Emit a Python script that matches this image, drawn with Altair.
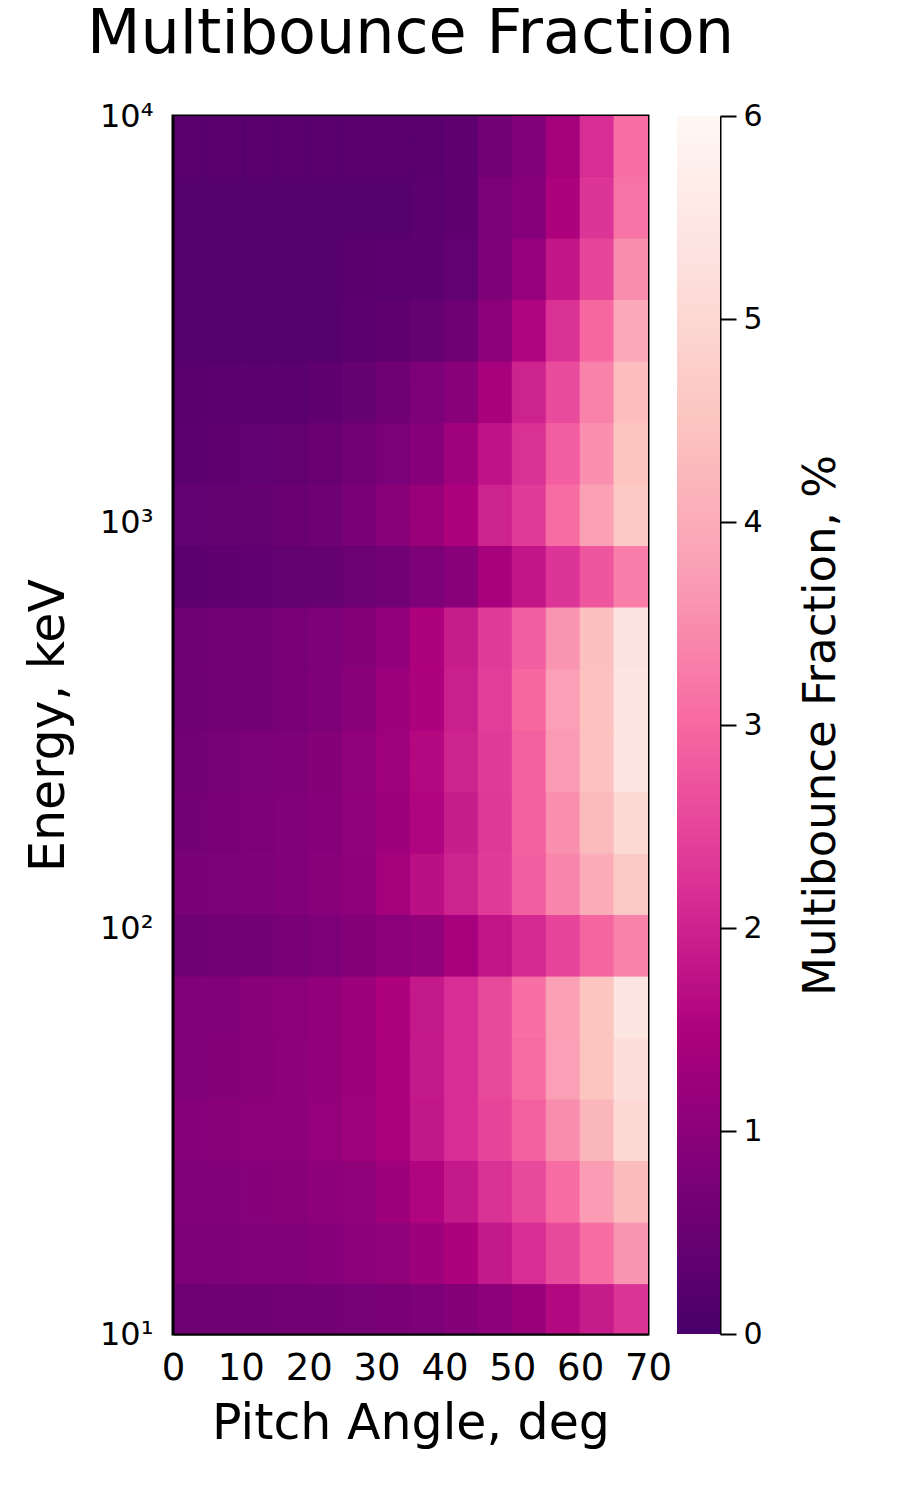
import altair as alt
import pandas as pd

FONT = "DejaVu Sans"

# Pitch-angle bin edges (deg) and energy bin edges (keV, top to bottom)
angle_edges = [0, 5, 10, 15, 20, 25, 30, 35, 40, 45, 50, 55, 60, 65, 70]
energy_edges = [10000, 7056, 4977, 3512, 2477, 1748, 1233, 870, 614, 433,
                305, 215.6, 152, 107.3, 75.7, 53.4, 37.7, 26.6, 18.75, 13.23, 9.33]

# Multibounce fraction (%) per energy row (top row = highest energy), 14 pitch-angle bins
row_00 = [0.25, 0.25, 0.25, 0.25, 0.25, 0.25, 0.25, 0.25, 0.33, 0.62, 0.88, 1.35, 2.15, 3.10]
row_01 = [0.20, 0.20, 0.20, 0.20, 0.20, 0.20, 0.20, 0.27, 0.35, 0.75, 0.93, 1.50, 2.25, 3.15]
row_02 = [0.20, 0.20, 0.20, 0.20, 0.20, 0.25, 0.28, 0.30, 0.38, 0.82, 1.12, 1.80, 2.50, 3.50]
row_03 = [0.20, 0.20, 0.20, 0.20, 0.20, 0.27, 0.35, 0.45, 0.60, 1.00, 1.55, 2.20, 3.00, 3.95]
row_04 = [0.25, 0.28, 0.28, 0.28, 0.35, 0.45, 0.60, 0.80, 0.95, 1.40, 2.00, 2.60, 3.35, 4.35]
row_05 = [0.30, 0.35, 0.38, 0.42, 0.50, 0.62, 0.75, 0.92, 1.30, 1.75, 2.20, 2.85, 3.55, 4.50]
row_06 = [0.38, 0.40, 0.45, 0.50, 0.57, 0.72, 0.95, 1.20, 1.50, 2.00, 2.35, 3.05, 3.78, 4.60]
row_07 = [0.30, 0.32, 0.37, 0.40, 0.45, 0.52, 0.62, 0.80, 0.95, 1.40, 1.80, 2.25, 2.75, 3.30]
row_08 = [0.60, 0.62, 0.68, 0.72, 0.80, 0.90, 1.10, 1.50, 1.90, 2.35, 2.85, 3.60, 4.40, 5.35]
row_09 = [0.60, 0.62, 0.68, 0.72, 0.82, 0.97, 1.25, 1.50, 1.95, 2.40, 3.00, 3.75, 4.45, 5.40]
row_10 = [0.62, 0.70, 0.75, 0.80, 0.90, 1.08, 1.30, 1.60, 2.00, 2.35, 2.90, 3.70, 4.45, 5.40]
row_11 = [0.68, 0.72, 0.78, 0.83, 0.92, 1.08, 1.28, 1.55, 1.92, 2.32, 2.90, 3.55, 4.30, 5.05]
row_12 = [0.72, 0.77, 0.80, 0.87, 0.95, 1.05, 1.35, 1.70, 2.00, 2.35, 2.85, 3.40, 4.00, 4.65]
row_13 = [0.58, 0.62, 0.68, 0.72, 0.78, 0.90, 1.00, 1.08, 1.40, 1.78, 2.10, 2.50, 2.95, 3.35]
row_14 = [0.83, 0.87, 0.95, 1.00, 1.10, 1.25, 1.50, 1.85, 2.15, 2.55, 3.10, 3.78, 4.50, 5.40]
row_15 = [0.85, 0.90, 0.95, 1.02, 1.10, 1.25, 1.48, 1.85, 2.15, 2.55, 3.05, 3.75, 4.50, 5.20]
row_16 = [0.93, 0.95, 0.98, 1.02, 1.12, 1.30, 1.48, 1.82, 2.15, 2.50, 2.90, 3.50, 4.20, 5.05]
row_17 = [0.83, 0.87, 0.92, 0.95, 1.02, 1.08, 1.28, 1.55, 1.85, 2.20, 2.55, 3.05, 3.72, 4.30]
row_18 = [0.78, 0.80, 0.83, 0.87, 0.93, 1.00, 1.07, 1.25, 1.50, 1.85, 2.15, 2.55, 3.05, 3.60]
row_19 = [0.57, 0.60, 0.60, 0.62, 0.65, 0.70, 0.73, 0.80, 0.90, 1.02, 1.20, 1.60, 1.88, 2.25]

rows = [row_00, row_01, row_02, row_03, row_04, row_05, row_06, row_07, row_08, row_09,
        row_10, row_11, row_12, row_13, row_14, row_15, row_16, row_17, row_18, row_19]

x_ticks = [0, 10, 20, 30, 40, 50, 60, 70]
y_ticks = [10, 100, 1000, 10000]
cb_ticks = [0, 1, 2, 3, 4, 5, 6]

# Colormap (RdPu reversed) stops
cb_values = [0, 0.75, 1.5, 2.25, 3.0, 3.75, 4.5, 5.25, 6.0]
cb_colors = ["#49006a", "#7a0177", "#ae017e", "#dd3497", "#f768a1",
             "#fa9fb5", "#fcc5c0", "#fde0dd", "#fff7f3"]

records = []
for i, row in enumerate(rows):
    for j, v in enumerate(row):
        records.append({
            "a0": angle_edges[j], "a1": angle_edges[j + 1],
            "e_hi": energy_edges[i], "e_lo": energy_edges[i + 1],
            "frac": v,
        })
df = pd.DataFrame(records)

color_scale = alt.Scale(domain=cb_values, range=cb_colors, interpolate="rgb")

heat = alt.Chart(df).mark_rect(clip=True, strokeWidth=1).encode(
    x=alt.X("a0:Q",
            scale=alt.Scale(domain=[0, 70], nice=False, zero=False),
            axis=alt.Axis(values=x_ticks, title="Pitch Angle, deg", grid=False,
                          ticks=False, domain=True, domainColor="black", domainWidth=2,
                          labelFontSize=37, labelColor="black", labelFont=FONT,
                          labelPadding=16, labelFlush=False, labelAngle=0,
                          titleFontSize=49, titleFont=FONT, titleColor="black",
                          titleFontWeight="normal", titlePadding=13, zindex=1)),
    x2="a1",
    y=alt.Y("e_lo:Q",
            scale=alt.Scale(type="log", domain=[10, 10000], nice=False),
            axis=alt.Axis(values=y_ticks, title="Energy, keV", grid=False,
                          ticks=False, domain=True, domainColor="black", domainWidth=2,
                          labelExpr="datum.value == 10 ? '10\u00b9' : datum.value == 100 ? '10\u00b2' : datum.value == 1000 ? '10\u00b3' : '10\u2074'",
                          labelFontSize=32, labelColor="black", labelFont=FONT,
                          labelPadding=20, labelOverlap=False, labelFlush=False,
                          titleFontSize=49, titleFont=FONT, titleColor="black",
                          titleFontWeight="normal", titlePadding=26, zindex=1)),
    y2="e_hi",
    color=alt.Color("frac:Q", scale=color_scale, legend=None),
    stroke=alt.Stroke("frac:Q", scale=color_scale, legend=None),
).properties(
    width=475, height=1218,
    view=alt.ViewBackground(stroke="black", strokeWidth=3),
    title=alt.TitleParams(text="Multibounce Fraction", fontSize=62, font=FONT,
                          fontWeight="normal", color="black", anchor="middle",
                          baseline="alphabetic", offset=-15),
)

gradient = alt.LinearGradient(
    gradient="linear", x1=0, x2=0, y1=1, y2=0,
    stops=[alt.GradientStop(color=c, offset=v / 6.0) for v, c in zip(cb_values, cb_colors)],
)

cb_df = pd.DataFrame({"lo": [cb_ticks[0]], "hi": [cb_ticks[-1]]})
cbar = alt.Chart(cb_df).mark_rect(color=gradient).encode(
    y=alt.Y("lo:Q", scale=alt.Scale(domain=[0, 6], nice=False),
            axis=alt.Axis(orient="right", values=cb_ticks, grid=False,
                          title="Multibounce Fraction, %",
                          ticks=True, tickSize=16, tickWidth=2, tickColor="black",
                          domain=True, domainColor="black", domainWidth=2,
                          labelFontSize=30, labelColor="black", labelFont=FONT,
                          labelPadding=7, labelOverlap=False, labelFlush=False,
                          titleFontSize=45, titleFont=FONT, titleColor="black",
                          titleFontWeight="normal", titleAngle=270,
                          titleBaseline="top", titlePadding=36)),
    y2="hi",
).properties(width=43, height=1218, view=alt.ViewBackground(strokeWidth=0))

chart = alt.hconcat(heat, cbar, spacing=29, bounds="flush").properties(
    padding={"left": 14, "top": -7, "right": 10, "bottom": 10}
).configure(font=FONT)

chart.save("out.html", embed_options={"renderer": "svg", "actions": False})
